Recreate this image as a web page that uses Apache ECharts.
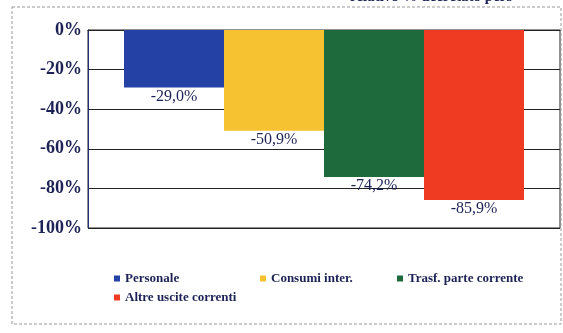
<!DOCTYPE html>
<html><head><meta charset="utf-8">
<script src="https://cdn.jsdelivr.net/npm/echarts@6/dist/echarts.min.js"></script>
<style>html,body{margin:0;padding:0;background:#fff}#c{width:563px;height:333px}</style>
</head><body><div id="c"></div>
<script>
const categories = [''];
const seriesNames = ['Personale', 'Consumi inter.', 'Trasf. parte corrente', 'Altre uscite correnti'];
const seriesValues = [[-29.0], [-50.9], [-74.2], [-85.9]];
const colors = ['#2441a6', '#f6c232', '#1f6a3c', '#ee3b22'];
const yTicks = { min: -100, max: 0, interval: 20 };
const headerText = 'relativo % decretato pers';

const serif = '"Liberation Serif","DejaVu Serif",serif';
const navy = '#1c2255';
const chart = echarts.init(document.getElementById('c'));
const legendPos = [[109, 267], [255, 267], [392, 267], [109, 286]];
chart.setOption({
  animation: false,
  graphic: [
    { type: 'rect', shape: { x: 12, y: 7, width: 549, height: 317 }, style: { fill: 'none', stroke: '#999', lineWidth: 1, lineDash: [3, 2] } },
    { type: 'text', left: 350, top: -10, style: { text: headerText, font: 'bold 15px ' + serif, fill: navy } }
  ],
  grid: { left: 88, right: 3, top: 30, bottom: 105, show: true, borderColor: '#222', borderWidth: 1 },
  legend: seriesNames.map((n, i) => ({
    data: [n], left: legendPos[i][0], top: legendPos[i][1], itemWidth: 6, itemHeight: 6, itemGap: 8,
    icon: 'rect', textStyle: { fontFamily: serif, fontWeight: 'bold', fontSize: 13, color: navy }
  })),
  xAxis: { type: 'category', data: categories, axisLine: { show: true, lineStyle: { color: '#222' } }, axisTick: { show: false }, axisLabel: { show: false } },
  yAxis: {
    type: 'value', min: yTicks.min, max: yTicks.max, interval: yTicks.interval,
    axisLine: { show: true, lineStyle: { color: '#22307a' } }, axisTick: { show: false },
    splitLine: { lineStyle: { color: '#222', width: 1 } },
    axisLabel: { formatter: v => v + '%', fontFamily: serif, fontWeight: 'bold', fontSize: 18, color: navy, margin: 6 }
  },
  series: seriesNames.map((n, i) => ({
    name: n, type: 'bar', data: seriesValues[i], barWidth: 100, barGap: '0%',
    itemStyle: { color: colors[i] },
    label: { show: true, position: 'bottom', distance: 1, formatter: p => p.value.toFixed(1).replace('.', ',') + '%', fontFamily: serif, fontSize: 16, color: navy }
  }))
});
</script></body></html>
